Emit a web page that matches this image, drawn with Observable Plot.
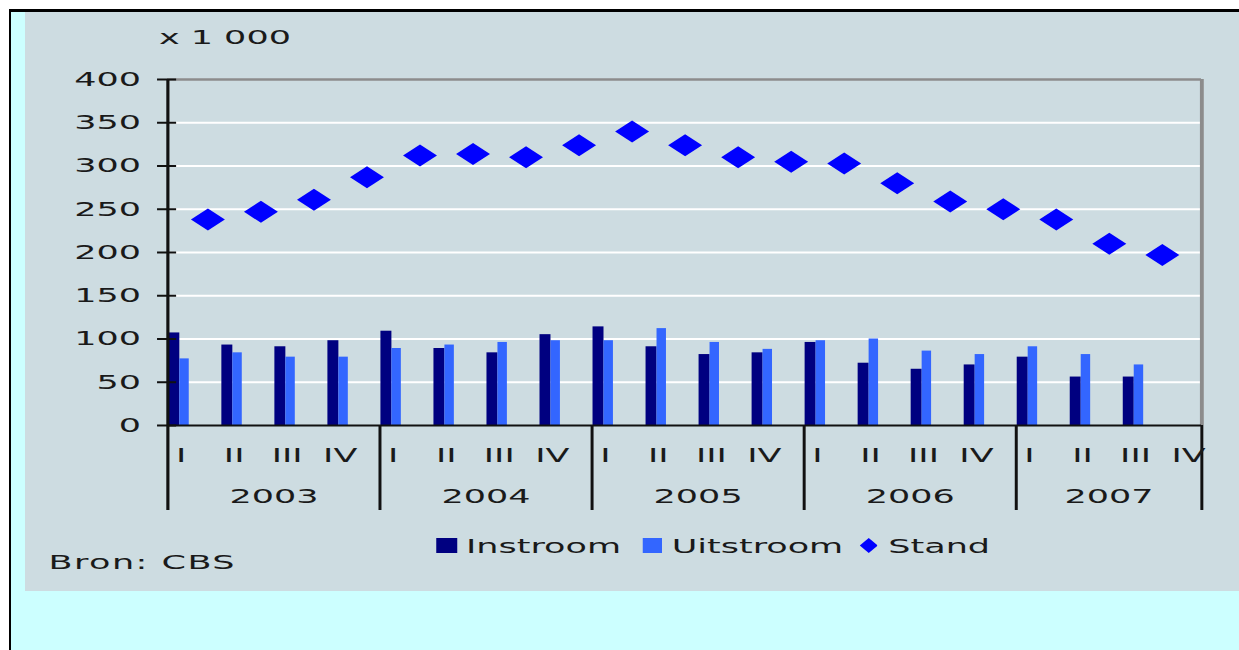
<!DOCTYPE html>
<html>
<head>
<meta charset="utf-8">
<script src="https://cdn.jsdelivr.net/npm/d3@7"></script>
<script src="https://cdn.jsdelivr.net/npm/@observablehq/plot@0.6"></script>
<style>
  html, body { margin: 0; padding: 0; background: #ffffff; }
  #frame { position: absolute; left: 9px; top: 9px; width: 1230px; height: 641px; background: #ccffff;
           border-left: 2px solid #000; border-top: 3px solid #000; box-sizing: border-box; }
  #panel { position: absolute; left: 25px; top: 12px; width: 693.71px; height: 579px; background: #cddce1;
           transform: scaleX(1.75); transform-origin: 0 0; font-family: "DejaVu Sans", sans-serif;
           font-size: 20px; color: #1a1a1a; overflow: visible; }
  .t { position: absolute; line-height: 20px; white-space: nowrap; }
  .sw { position: absolute; height: 15px; }
  #chart { position: absolute; left: 0; top: 0; }
</style>
</head>
<body>
<div id="frame"></div>
<div id="panel">
  <div class="t" style="left:76.5px; top:14.7px;">x 1 000</div>
  <div id="chart"></div>
  <div class="sw" style="left:234.9px; top:526px; width:11.7px; background:#000080;"></div>
  <div class="t" style="left:252px; top:523.7px;">Instroom</div>
  <div class="sw" style="left:352.6px; top:526px; width:11.4px; background:#3366ff;"></div>
  <div class="t" style="left:369.5px; top:523.7px;">Uitstroom</div>
  <svg class="sw" style="left:476.6px; top:526px;" width="10.3" height="15"><polygon points="5.15,0 10.3,7.5 5.15,15 0,7.5" fill="#0000ff"/></svg>
  <div class="t" style="left:493.3px; top:523.7px;">Stand</div>
  <div class="t" style="left:13.4px; top:539.7px; letter-spacing:0.85px;">Bron: CBS</div>
</div>
<script>
// ---- data (values in thousands) ----
const quarters = ["2003 I","2003 II","2003 III","2003 IV","2004 I","2004 II","2004 III","2004 IV",
                  "2005 I","2005 II","2005 III","2005 IV","2006 I","2006 II","2006 III","2006 IV",
                  "2007 I","2007 II","2007 III"];
const instroom  = [107, 93, 91, 98, 109, 89, 84, 105, 114, 91, 82, 84, 96, 72, 65, 70, 79, 56, 56];
const uitstroom = [77, 84, 79, 79, 89, 93, 96, 98, 98, 112, 96, 88, 98, 100, 86, 82, 91, 82, 70];
const stand     = [238, 247, 261, 287, 312, 314, 310, 324, 340, 324, 310, 305, 303, 280, 259, 250, 238, 210, 197];
const years = ["2003", "2004", "2005", "2006", "2007"];
const quarterNames = ["I", "II", "III", "IV"];
const yTicks = [0, 50, 100, 150, 200, 250, 300, 350, 400];

// ---- layout (pre-stretch units; whole panel is stretched 1.75x horizontally) ----
const S = 1.75;
const W = 1214 / S;
const plotLeft = (167 - 25) / S;
const plotRight = (1201 - 25) / S;
const plotW = plotRight - plotLeft;
const slotsShown = 19.5;

const rows = quarters.map((q, i) => ({q, i, instroom: instroom[i], uitstroom: uitstroom[i], stand: stand[i]}));
const axisQuarters = years.flatMap((y, yi) => quarterNames.map((n, qi) => ({label: n, slot: yi * 4 + qi})));
const bounds = years.map((y, yi) => yi * 4).concat([slotsShown]);
const yearLabels = years.map((y, yi) => ({year: y, mid: (bounds[yi] + bounds[yi + 1]) / 2}));

const diamond = {
  draw(ctx) {
    const w = 9.7, h = 11;
    ctx.moveTo(0, -h); ctx.lineTo(w, 0); ctx.lineTo(0, h); ctx.lineTo(-w, 0); ctx.closePath();
  }
};

const chart = Plot.plot({
  width: W,
  height: 508,
  marginLeft: plotLeft,
  marginRight: W - plotRight,
  marginTop: 67,
  marginBottom: 95,
  x: {domain: [0, slotsShown], axis: null},
  y: {domain: [0, 400], axis: null},
  style: "background:transparent;font-family:'DejaVu Sans',sans-serif;font-size:20px;overflow:visible;max-width:none;color:#1a1a1a",
  marks: [
    Plot.ruleY(yTicks.filter(v => v > 0 && v < 400), {stroke: "#ffffff", strokeWidth: 2}),
    Plot.ruleY([400], {stroke: "#8c8c8c", strokeWidth: 2.5}),
    Plot.ruleX([slotsShown], {y1: 0, y2: 400, stroke: "#8c8c8c", strokeWidth: 2.2}),
    Plot.rect(rows, {x1: d => d.i + 0.025, x2: d => d.i + 0.232, y1: 0, y2: "instroom", fill: "#000080"}),
    Plot.rect(rows, {x1: d => d.i + 0.232, x2: d => d.i + 0.41, y1: 0, y2: "uitstroom", fill: "#3366ff"}),
    Plot.dot(rows, {x: d => d.i + 0.755, y: "stand", symbol: diamond, fill: "#0000ff", stroke: "none"}),
    Plot.ruleY([0], {stroke: "#111111", strokeWidth: 2}),
    Plot.ruleY(yTicks, {stroke: "#111111", strokeWidth: 2, insetLeft: -5.7, insetRight: plotW - 5.2}),
    Plot.ruleX([0], {stroke: "#111111", strokeWidth: 1.8, insetBottom: -85}),
    Plot.ruleX(bounds.slice(1), {stroke: "#111111", strokeWidth: 1.7, insetTop: 346, insetBottom: -85}),
    Plot.text(yTicks, {y: d => d, text: d => String(d), frameAnchor: "left", textAnchor: "end", dx: -15.4, fill: "#1a1a1a"}),
    Plot.text(axisQuarters, {x: d => d.slot + 0.25, text: "label", frameAnchor: "bottom", dy: 37, fill: "#1a1a1a"}),
    Plot.text(yearLabels, {x: "mid", text: "year", frameAnchor: "bottom", dy: 77.5, fill: "#1a1a1a"})
  ]
});
document.getElementById("chart").appendChild(chart);
</script>
</body>
</html>
